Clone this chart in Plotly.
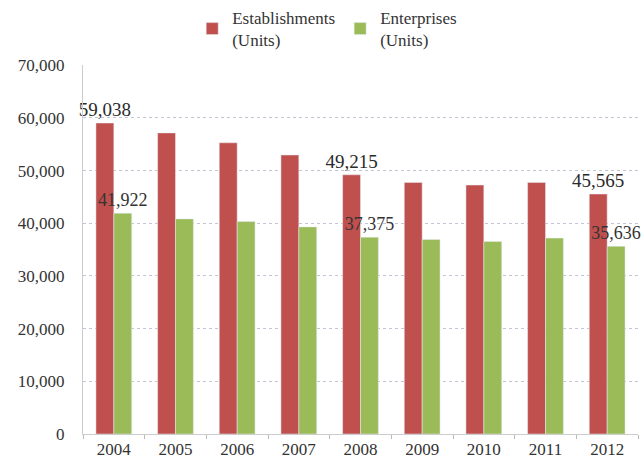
import plotly.graph_objects as go

years = ["2004", "2005", "2006", "2007", "2008", "2009", "2010", "2011", "2012"]
establishments = [59038, 57170, 55290, 52975, 49215, 47770, 47270, 47770, 45565]
enterprises = [41922, 40840, 40330, 39320, 37375, 36920, 36540, 37190, 35636]
labeled_years = {"2004", "2008", "2012"}
y_ticks = [0, 10000, 20000, 30000, 40000, 50000, 60000, 70000]

RED = "#C0504D"
GREEN = "#9BBB59"
FONT = "Liberation Serif"


def label_text(values):
    return [f"{v:,}" if y in labeled_years else "" for y, v in zip(years, values)]


fig = go.Figure()
fig.add_trace(go.Bar(
    x=years, y=establishments, name="Establishments<br>(Units)",
    marker_color=RED, text=label_text(establishments),
    textposition="outside", constraintext="none",
    textfont=dict(family=FONT, size=19, color="#2a2a2a"),
    cliponaxis=False,
))
fig.add_trace(go.Bar(
    x=years, y=enterprises, name="Enterprises<br>(Units)",
    marker_color=GREEN, text=label_text(enterprises),
    textposition="outside", constraintext="none",
    textfont=dict(family=FONT, size=18, color="#333"),
    cliponaxis=False,
))

fig.update_layout(
    width=642, height=465,
    margin=dict(l=83, r=4, t=65, b=31, autoexpand=False),
    paper_bgcolor="white", plot_bgcolor="white",
    barmode="group", bargap=0.42, bargroupgap=0,
    font=dict(family=FONT, size=17, color="#333"),
    legend=dict(orientation="h", x=0.44, xanchor="center", y=1.0, yanchor="top",
                yref="container", font=dict(family=FONT, size=17, color="#333"),
                traceorder="normal", itemwidth=30),
)
fig.update_xaxes(
    type="category", tickson="boundaries", ticks="outside", ticklen=4,
    tickcolor="#bbb", showline=True, linecolor="#ccc", linewidth=1,
    showgrid=False, tickfont=dict(family=FONT, size=17, color="#333"),
)
fig.update_yaxes(
    range=[0, 70060], tickvals=y_ticks, tickformat=",d",
    showgrid=True, gridcolor="#c4c4d4", griddash="dot", gridwidth=1,
    showline=True, linecolor="#ccc", linewidth=1, zeroline=False,
    ticks="", ticklabelstandoff=14,
    tickfont=dict(family=FONT, size=17, color="#333"),
)

fig.write_html("out.html")
